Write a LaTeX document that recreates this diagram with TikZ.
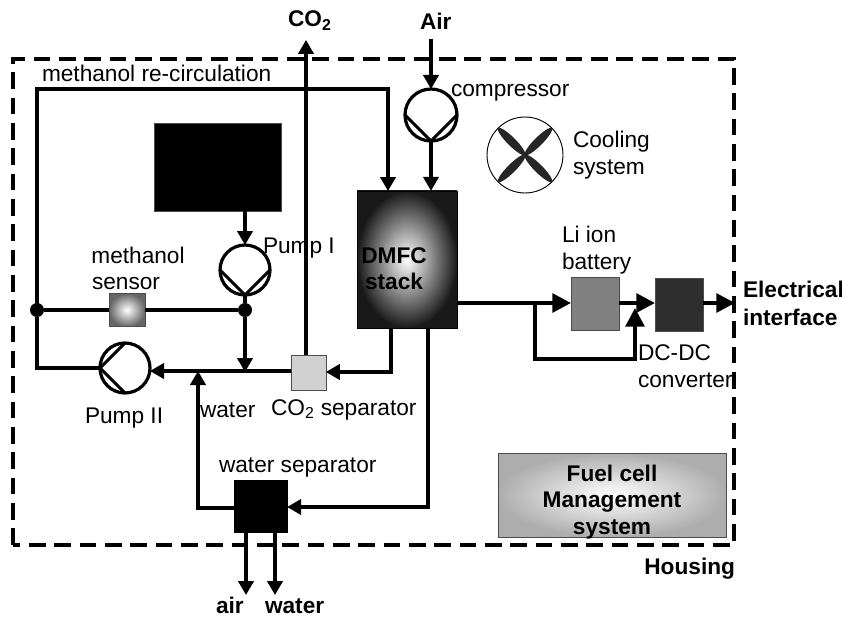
\documentclass[tikz,border=0pt]{standalone}
\usepackage{fontspec}
\setmainfont{Liberation Sans}
\usetikzlibrary{arrows.meta,calc}
\tikzset{
  flow/.style={line width=2.3pt,-{Triangle[length=10.5pt,width=11.5pt]}},
  pipe/.style={line width=2.3pt},
  thick flow/.style={line width=3pt,-{Triangle[length=14pt,width=14pt]}},
  housing/.style={line width=3pt,dash pattern=on 12.5pt off 6.5pt},
  unit/.style={draw=black!70,line width=0.5pt,inner sep=0pt,outer sep=0pt},
  pump/.style={circle,draw,line width=2.4pt,fill=white,inner sep=0pt,outer sep=0pt,minimum size=37.5pt},
  dot/.style={circle,fill=black,inner sep=0pt,outer sep=0pt,minimum size=10.5pt},
  lbl/.style={inner sep=0pt,outer sep=0pt,font=\fontsize{17}{20}\selectfont},
  lblb/.style={lbl,font=\fontsize{17}{20}\selectfont\bfseries},
}
\begin{document}
\begin{tikzpicture}[x=0.75pt,y=-0.75pt]
\useasboundingbox (0,0) rectangle (842,617);
% housing
\draw[housing] (13,545) -- (13,59) -- (734,59) -- (734,545) -- cycle;
% units
\node[unit,fill=black,minimum width=95pt,minimum height=66pt] (tank) at (217.5,167) {};
\node[unit,shade,inner color=white,outer color=black!90,draw=black,minimum width=75pt,minimum height=103pt] (stack) at (407,259.5) {};
\node[unit,shade,inner color=white,outer color=black!60,minimum width=27pt,minimum height=25pt] (sensor) at (127,310) {};
\node[unit,fill=black!18,minimum width=26pt,minimum height=26pt] (co2sep) at (308.5,372.5) {};
\node[unit,fill=black,draw=black,minimum width=40pt,minimum height=39pt] (watersep) at (260.5,506) {};
\node[unit,fill=black!50,minimum width=36pt,minimum height=40pt] (battery) at (595,303.5) {};
\node[unit,fill=black!82,minimum width=36pt,minimum height=40pt] (converter) at (679,305) {};
\node[unit,shade,inner color=white,outer color=black!32,minimum width=171pt,minimum height=63pt] (fcms) at (612,495) {};
\node[pump] (pumpI) at (245,270) {};
\node[pump] (pumpII) at (125,368) {};
\node[pump,minimum size=39pt] (comp) at (431,115) {};
\node[circle,draw,line width=0.7pt,inner sep=0pt,minimum size=57pt] (fan) at (525,155) {};
% pump and fan glyphs
\draw[pipe] (pumpI.west) -- (pumpI.south) -- (pumpI.east);
\draw[pipe] (pumpII.north) -- (pumpII.west) -- (pumpII.south);
\draw[pipe] (comp.west) -- (comp.south) -- (comp.east);
\foreach \a in {45,135,225,315}{
  \fill[black!85,rotate around={\a:(fan.center)}] ($(fan.center)+(19,0)$) ellipse (19 and 4.2);
}
% junctions and free ends
\coordinate (co2out) at (306,40);
\coordinate (airin) at (431,39);
\coordinate (airout) at (246,595);
\coordinate (waterout) at (275,595);
\coordinate (elec) at (735,303);
\coordinate (recircTL) at (37,89);
\coordinate (recircTR) at (388,89);
\coordinate (stackIn) at (388,191);
\coordinate (branch) at (535,303);
\coordinate (branchB) at (535,359);
\coordinate (branchC) at (635,359);
\coordinate (branchEnd) at (635,308);
\coordinate (mix) at (198,371);
\coordinate (stackS1) at (391,328);
\coordinate (stackS1b) at (391,372);
\coordinate (stackS2) at (428,328);
\coordinate (stackS2b) at (428,507);
\coordinate (wsepL) at (198,508);
\coordinate (dotLb) at (37,368);
\coordinate (dotRb) at (245,372);
\node[dot] (dotL) at (37,310) {};
\node[dot] (dotR) at (245,310) {};
% connectors
\draw[flow] (airin) -- (comp.north);
\draw[flow] (comp.south) -- (stack.north -| comp.south);
\draw[flow] (co2sep.north -| co2out) -- (co2out);
\draw[flow] (dotL.center) -- (recircTL) -- (recircTR) -- (stackIn);
\draw[flow] (tank.south -| pumpI.north) -- (pumpI.north);
\draw[pipe] (dotL) -- (sensor.west);
\draw[pipe] (sensor.east) -- (dotR);
\draw[pipe] (pumpI.south) -- (dotR);
\draw[flow] (dotR) -- (dotRb);
\draw[pipe] (dotL) -- (dotLb) -- (pumpII.west);
\draw[flow] (co2sep.west |- mix) -- (pumpII.east |- mix);
\draw[flow] (stackS1) -- (stackS1b) -- (co2sep.east |- stackS1b);
\draw[flow] (stackS2) -- (stackS2b) -- (watersep.east |- stackS2b);
\draw[flow] (watersep.west |- wsepL) -- (wsepL) -- (mix);
\draw[flow] (watersep.south -| airout) -- (airout);
\draw[flow] (watersep.south -| waterout) -- (waterout);
\draw[thick flow] (stack.east |- branch) -- (battery.west |- branch);
\draw[thick flow] (battery.east |- branch) -- (converter.west |- branch);
\draw[thick flow] (converter.east |- elec) -- (elec);
\draw[thick flow] (branch) -- (branchB) -- (branchC) -- (branchEnd);
% labels
\node[lbl,anchor=base west] (tRecirc) at (42,81) {methanol re-circulation};
\node[lbl,anchor=base west] (tComp) at (451,97) {compressor};
\node[lbl,anchor=base west] (tCool1) at (573,147) {Cooling};
\node[lbl,anchor=base west] (tCool2) at (573,174) {system};
\node[lbl,anchor=base west] (tLi1) at (562,242) {Li ion};
\node[lbl,anchor=base west] (tLi2) at (562,269) {battery};
\node[lblb,anchor=base west] (tEl1) at (743,297) {Electrical};
\node[lblb,anchor=base west] (tEl2) at (743,325) {interface};
\node[lbl,anchor=base west] (tDc1) at (638,360) {DC-DC};
\node[lbl,anchor=base west] (tDc2) at (638,387) {converter};
\node[lblb,anchor=base east] (tHousing) at (735,574) {Housing};
\node[lbl,anchor=base west] (tPumpI) at (263,253) {Pump I};
\node[lbl,anchor=base] (tMs1) at (138,263) {methanol};
\node[lbl,anchor=base west] (tMs2) at (92,289) {sensor};
\node[lbl,anchor=base west] (tPumpII) at (85,423) {Pump II};
\node[lbl,anchor=base west] (tWater) at (200,417) {water};
\node[lbl,anchor=base west] (tCo2sep) at (271,415) {CO\textsubscript{2} separator};
\node[lbl,anchor=base west] (tWsep) at (219,472) {water separator};
\node[lblb,anchor=base west] (tAir) at (216,613) {air};
\node[lblb,anchor=base west] (tWat) at (265,613) {water};
\node[lblb,anchor=base west] (tCo2) at (288,27) {CO\textsubscript{2}};
\node[lblb,anchor=base west] (tAirIn) at (420,30) {Air};
\node[lblb,anchor=base] (tD1) at (394,263) {DMFC};
\node[lblb,anchor=base] (tD2) at (394,289) {stack};
\node[lblb,anchor=base] (tF1) at (612,481) {Fuel cell};
\node[lblb,anchor=base] (tF2) at (612,507) {Management};
\node[lblb,anchor=base] (tF3) at (612,534) {system};
\end{tikzpicture}
\end{document}
